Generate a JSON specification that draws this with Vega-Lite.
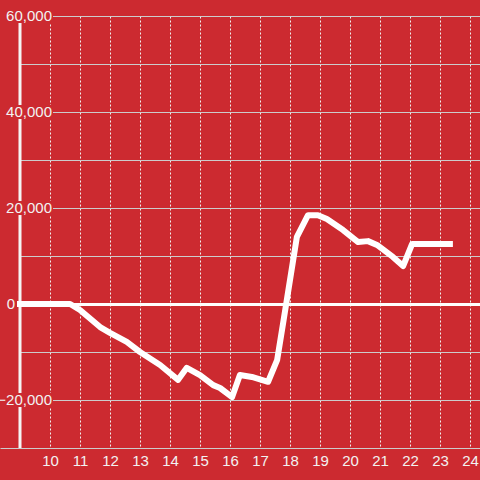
{
  "$schema": "https://vega.github.io/schema/vega-lite/v6.json",
  "width": 480,
  "height": 432,
  "autosize": {"type": "none"},
  "padding": {"left": 0, "top": 16, "right": 0, "bottom": 32},
  "background": "#cc2a30",
  "config": {"view": {"stroke": null}, "font": "Liberation Sans"},
  "datasets": {
    "series": [
      {"hour": 9.0, "value": 0},
      {"hour": 10.33, "value": 0},
      {"hour": 10.67, "value": 0},
      {"hour": 11.0, "value": -1250},
      {"hour": 11.67, "value": -4800},
      {"hour": 12.0, "value": -6000},
      {"hour": 12.56, "value": -7900},
      {"hour": 13.0, "value": -10000},
      {"hour": 13.67, "value": -12700},
      {"hour": 14.27, "value": -15800},
      {"hour": 14.56, "value": -13300},
      {"hour": 15.0, "value": -14800},
      {"hour": 15.44, "value": -16900},
      {"hour": 15.67, "value": -17500},
      {"hour": 16.07, "value": -19400},
      {"hour": 16.33, "value": -14800},
      {"hour": 16.73, "value": -15200},
      {"hour": 17.27, "value": -16200},
      {"hour": 17.57, "value": -11700},
      {"hour": 17.77, "value": -4000},
      {"hour": 18.0, "value": 5000},
      {"hour": 18.23, "value": 14000},
      {"hour": 18.6, "value": 18500},
      {"hour": 18.93, "value": 18500},
      {"hour": 19.23, "value": 17700},
      {"hour": 19.77, "value": 15400},
      {"hour": 20.27, "value": 12900},
      {"hour": 20.6, "value": 13100},
      {"hour": 20.9, "value": 12300},
      {"hour": 21.43, "value": 9800},
      {"hour": 21.77, "value": 7900},
      {"hour": 22.07, "value": 12500},
      {"hour": 23.33, "value": 12500}
    ],
    "ylabels": [
      {"value": -20000},
      {"value": 20000},
      {"value": 40000},
      {"value": 60000}
    ],
    "zerolabel": [
      {"value": 0}
    ]
  },
  "layer": [
    {
      "data": {"name": "zerolabel"},
      "mark": {"type": "rect", "color": "#cc2a30", "opacity": 1},
      "encoding": {
        "x": {
          "datum": 8.3333, "type": "quantitative", "title": null,
          "scale": {"domain": [8.3333, 24.3333], "nice": false, "zero": false},
          "axis": {"values": [10, 11, 12, 13, 14, 15, 16, 17, 18, 19, 20, 21, 22, 23, 24], "title": null, "zindex": 0, "grid": true, "gridDash": [2, 2], "gridColor": "#f0f0f0", "gridWidth": 1, "domainColor": "#cccccc", "domainWidth": 1, "ticks": false, "tickSize": 0, "labelFontSize": 15, "labelColor": "#f2f2f2", "labelPadding": 5, "labelFlush": false, "labelBound": false, "labelOverlap": false}
        },
        "x2": {"datum": 9},
        "y": {
          "datum": -30000, "type": "quantitative", "title": null,
          "scale": {"domain": [-30000, 60000], "nice": false, "zero": false},
          "axis": {"values": [-20000, -10000, 0, 10000, 20000, 30000, 40000, 50000, 60000], "title": null, "zindex": 0, "labels": false, "domain": false, "ticks": false, "tickSize": 0, "grid": true, "gridColor": {"condition": {"test": "datum.value === 0", "value": "#ffffff"}, "value": "#cccccc"}, "gridWidth": {"condition": {"test": "datum.value === 0", "value": 3}, "value": 1}}
        },
        "y2": {"datum": 60000}
      }
    },
    {
      "data": {"name": "zerolabel"},
      "mark": {"type": "rule", "color": "#f5f5f5", "strokeWidth": 3},
      "encoding": {
        "x": {
          "datum": 9, "type": "quantitative", "title": null,
          "scale": {"domain": [8.3333, 24.3333], "nice": false, "zero": false},
          "axis": {"values": [10, 11, 12, 13, 14, 15, 16, 17, 18, 19, 20, 21, 22, 23, 24], "title": null, "zindex": 0, "grid": true, "gridDash": [2, 2], "gridColor": "#f0f0f0", "gridWidth": 1, "domainColor": "#cccccc", "domainWidth": 1, "ticks": false, "tickSize": 0, "labelFontSize": 15, "labelColor": "#f2f2f2", "labelPadding": 5, "labelFlush": false, "labelBound": false, "labelOverlap": false}
        }
      }
    },
    {
      "data": {"name": "series"},
      "mark": {"type": "line", "color": "white", "strokeWidth": 6, "strokeCap": "square", "strokeJoin": "round"},
      "encoding": {
        "x": {
          "field": "hour", "type": "quantitative", "title": null,
          "scale": {"domain": [8.3333, 24.3333], "nice": false, "zero": false},
          "axis": {"values": [10, 11, 12, 13, 14, 15, 16, 17, 18, 19, 20, 21, 22, 23, 24], "title": null, "zindex": 0, "grid": true, "gridDash": [2, 2], "gridColor": "#f0f0f0", "gridWidth": 1, "domainColor": "#cccccc", "domainWidth": 1, "ticks": false, "tickSize": 0, "labelFontSize": 15, "labelColor": "#f2f2f2", "labelPadding": 5, "labelFlush": false, "labelBound": false, "labelOverlap": false}
        },
        "y": {
          "field": "value", "type": "quantitative", "title": null,
          "scale": {"domain": [-30000, 60000], "nice": false, "zero": false},
          "axis": {"values": [-20000, -10000, 0, 10000, 20000, 30000, 40000, 50000, 60000], "title": null, "zindex": 0, "labels": false, "domain": false, "ticks": false, "tickSize": 0, "grid": true, "gridColor": {"condition": {"test": "datum.value === 0", "value": "#ffffff"}, "value": "#cccccc"}, "gridWidth": {"condition": {"test": "datum.value === 0", "value": 3}, "value": 1}}
        }
      }
    },
    {
      "data": {"name": "ylabels"},
      "mark": {"type": "point", "shape": "M-1,-0.25L1,-0.25L1,0.25L-1,0.25Z", "filled": true, "color": "#cc2a30", "opacity": 1, "size": 3136, "strokeWidth": 0},
      "encoding": {
        "x": {
          "datum": 9.1667, "type": "quantitative", "title": null,
          "scale": {"domain": [8.3333, 24.3333], "nice": false, "zero": false},
          "axis": {"values": [10, 11, 12, 13, 14, 15, 16, 17, 18, 19, 20, 21, 22, 23, 24], "title": null, "zindex": 0, "grid": true, "gridDash": [2, 2], "gridColor": "#f0f0f0", "gridWidth": 1, "domainColor": "#cccccc", "domainWidth": 1, "ticks": false, "tickSize": 0, "labelFontSize": 15, "labelColor": "#f2f2f2", "labelPadding": 5, "labelFlush": false, "labelBound": false, "labelOverlap": false}
        },
        "y": {
          "field": "value", "type": "quantitative", "title": null,
          "scale": {"domain": [-30000, 60000], "nice": false, "zero": false},
          "axis": {"values": [-20000, -10000, 0, 10000, 20000, 30000, 40000, 50000, 60000], "title": null, "zindex": 0, "labels": false, "domain": false, "ticks": false, "tickSize": 0, "grid": true, "gridColor": {"condition": {"test": "datum.value === 0", "value": "#ffffff"}, "value": "#cccccc"}, "gridWidth": {"condition": {"test": "datum.value === 0", "value": 3}, "value": 1}}
        }
      }
    },
    {
      "data": {"name": "ylabels"},
      "mark": {"type": "text", "align": "right", "baseline": "middle", "dx": 32, "fontSize": 15, "color": "#f2f2f2", "font": "Liberation Sans"},
      "encoding": {
        "x": {
          "datum": 9, "type": "quantitative", "title": null,
          "scale": {"domain": [8.3333, 24.3333], "nice": false, "zero": false},
          "axis": {"values": [10, 11, 12, 13, 14, 15, 16, 17, 18, 19, 20, 21, 22, 23, 24], "title": null, "zindex": 0, "grid": true, "gridDash": [2, 2], "gridColor": "#f0f0f0", "gridWidth": 1, "domainColor": "#cccccc", "domainWidth": 1, "ticks": false, "tickSize": 0, "labelFontSize": 15, "labelColor": "#f2f2f2", "labelPadding": 5, "labelFlush": false, "labelBound": false, "labelOverlap": false}
        },
        "y": {
          "field": "value", "type": "quantitative", "title": null,
          "scale": {"domain": [-30000, 60000], "nice": false, "zero": false},
          "axis": {"values": [-20000, -10000, 0, 10000, 20000, 30000, 40000, 50000, 60000], "title": null, "zindex": 0, "labels": false, "domain": false, "ticks": false, "tickSize": 0, "grid": true, "gridColor": {"condition": {"test": "datum.value === 0", "value": "#ffffff"}, "value": "#cccccc"}, "gridWidth": {"condition": {"test": "datum.value === 0", "value": 3}, "value": 1}}
        },
        "text": {"field": "value", "type": "quantitative", "format": ",.0f"}
      }
    },
    {
      "data": {"name": "zerolabel"},
      "mark": {"type": "text", "align": "right", "baseline": "middle", "dx": -5, "fontSize": 15, "color": "#f2f2f2", "font": "Liberation Sans"},
      "encoding": {
        "x": {
          "datum": 9, "type": "quantitative", "title": null,
          "scale": {"domain": [8.3333, 24.3333], "nice": false, "zero": false},
          "axis": {"values": [10, 11, 12, 13, 14, 15, 16, 17, 18, 19, 20, 21, 22, 23, 24], "title": null, "zindex": 0, "grid": true, "gridDash": [2, 2], "gridColor": "#f0f0f0", "gridWidth": 1, "domainColor": "#cccccc", "domainWidth": 1, "ticks": false, "tickSize": 0, "labelFontSize": 15, "labelColor": "#f2f2f2", "labelPadding": 5, "labelFlush": false, "labelBound": false, "labelOverlap": false}
        },
        "y": {
          "field": "value", "type": "quantitative", "title": null,
          "scale": {"domain": [-30000, 60000], "nice": false, "zero": false},
          "axis": {"values": [-20000, -10000, 0, 10000, 20000, 30000, 40000, 50000, 60000], "title": null, "zindex": 0, "labels": false, "domain": false, "ticks": false, "tickSize": 0, "grid": true, "gridColor": {"condition": {"test": "datum.value === 0", "value": "#ffffff"}, "value": "#cccccc"}, "gridWidth": {"condition": {"test": "datum.value === 0", "value": 3}, "value": 1}}
        },
        "text": {"field": "value", "type": "quantitative", "format": ",.0f"}
      }
    }
  ]
}
